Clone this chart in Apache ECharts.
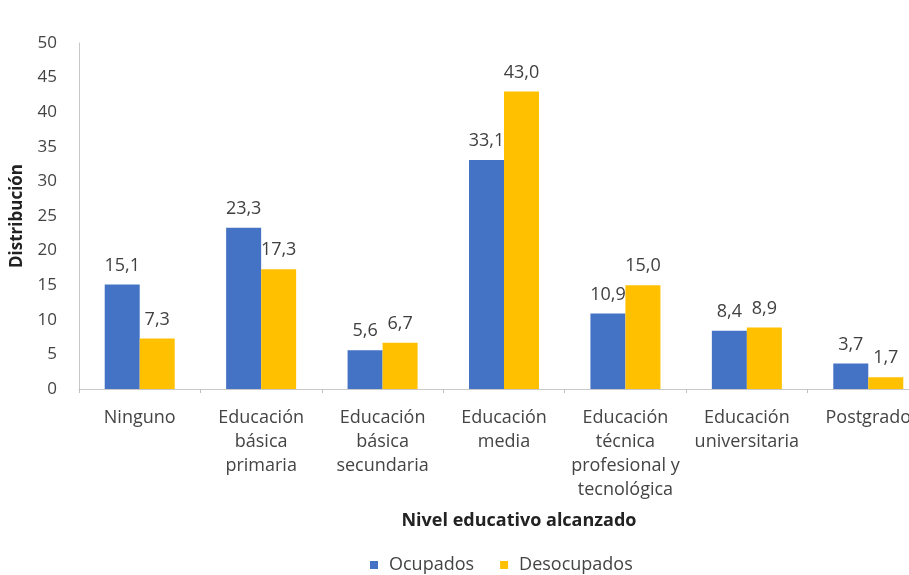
<!DOCTYPE html>
<html>
<head>
<meta charset="utf-8">
<script src="https://cdn.jsdelivr.net/npm/echarts@6/dist/echarts.min.js"></script>
<style>
html,body{margin:0;padding:0;background:#fff;overflow:hidden;}
#chart{width:929px;height:575px;}
</style>
</head>
<body>
<div id="chart"></div>
<script>
const categories = [
  'Ninguno',
  'Educación\nbásica\nprimaria',
  'Educación\nbásica\nsecundaria',
  'Educación\nmedia',
  'Educación\ntécnica\nprofesional y\ntecnológica',
  'Educación\nuniversitaria',
  'Postgrado'
];
const ocupados = [15.1, 23.3, 5.6, 33.1, 10.9, 8.4, 3.7];
const desocupados = [7.3, 17.3, 6.7, 43.0, 15.0, 8.9, 1.7];
const seriesNames = ['Ocupados', 'Desocupados'];

const fmt = p => p.value.toFixed(1).replace('.', ',');
const font = "'Open Sans', 'Noto Sans', sans-serif";

const chart = echarts.init(document.getElementById('chart'));
chart.setOption({
  animation: false,
  textStyle: { fontFamily: font },
  grid: { left: 79, right: 0, top: 43, bottom: 186 },
  legend: {
    data: seriesNames,
    top: 551,
    left: 365,
    icon: 'rect',
    itemWidth: 8,
    itemHeight: 8,
    itemGap: 26,
    textStyle: { color: '#444', fontSize: 18, fontFamily: font, padding: [0, 0, 0, 6] }
  },
  xAxis: {
    type: 'category',
    data: categories,
    name: 'Nivel educativo alcanzado',
    nameLocation: 'middle',
    nameGap: 123,
    nameTextStyle: { fontWeight: 'bold', fontSize: 18, color: '#222', padding: [0, 0, 0, 30] },
    axisLine: { lineStyle: { color: '#c8c8c8' } },
    axisTick: { show: true, length: 4, lineStyle: { color: '#bfbfbf' } },
    axisLabel: { color: '#444', fontSize: 18, lineHeight: 24, margin: 17, interval: 0 }
  },
  yAxis: {
    type: 'value',
    min: 0,
    max: 50,
    interval: 5,
    name: 'Distribución',
    nameLocation: 'middle',
    nameGap: 53,
    nameRotate: 90,
    nameTextStyle: { fontWeight: 'bold', fontSize: 17, color: '#222' },
    axisLine: { show: true, lineStyle: { color: '#c8c8c8' } },
    axisTick: { show: false },
    splitLine: { show: false },
    axisLabel: { color: '#444', fontSize: 17, margin: 22 }
  },
  series: [
    {
      name: seriesNames[0],
      type: 'bar',
      data: ocupados,
      barWidth: 35,
      barGap: '0%',
      itemStyle: { color: '#4472C4' },
      label: { show: true, position: 'top', distance: 10, color: '#404040', fontSize: 18, formatter: fmt }
    },
    {
      name: seriesNames[1],
      type: 'bar',
      data: desocupados,
      barWidth: 35,
      barGap: '0%',
      itemStyle: { color: '#FFC000' },
      label: { show: true, position: 'top', distance: 10, color: '#404040', fontSize: 18, formatter: fmt }
    }
  ]
});
</script>
</body>
</html>
